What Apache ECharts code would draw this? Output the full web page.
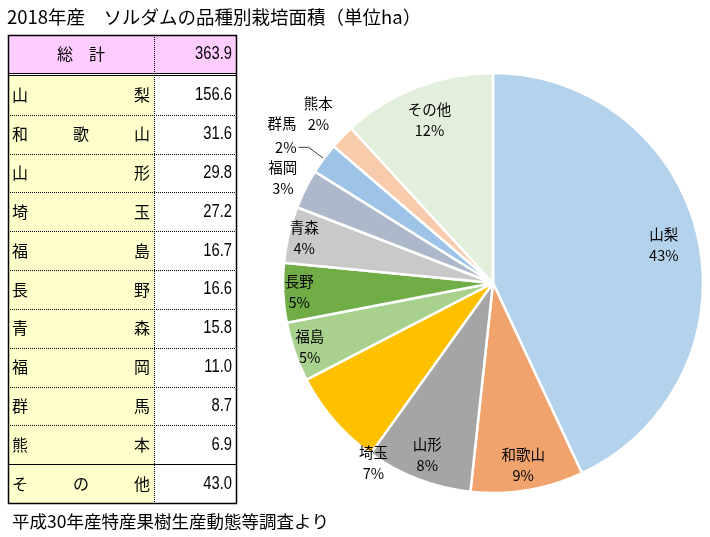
<!DOCTYPE html>
<html><head><meta charset="utf-8">
<script src="https://cdn.jsdelivr.net/npm/echarts@6/dist/echarts.min.js"></script>
<style>html,body{margin:0;padding:0;background:#fff}#c{width:710px;height:537px}</style>
</head><body><div id="c"></div>
<script>
// ---- data ----
const titleText = '2018年産　ソルダムの品種別栽培面積（単位ha）';
const sourceText = '平成30年産特産果樹生産動態等調査より';
const totalLabel = '総　計';
const regions = ['山梨','和歌山','山形','埼玉','福島','長野','青森','福岡','群馬','熊本','その他'];
const areas = [156.6,31.6,29.8,27.2,16.7,16.6,15.8,11.0,8.7,6.9,43.0];

// ---- style ----
const sliceColors = ['#b4d2eb','#f1a36d','#a5a5a5','#ffc000','#a9d18e','#70ad47','#c9c9c9','#adb9ca','#9dc3e6','#f8cbad','#e2efda'];
const jpFont = '"Noto Sans CJK JP", sans-serif';
const numFont = '"Liberation Sans", Arial, sans-serif';

const total = areas.reduce((a,b)=>a+b,0);
const pct = v => Math.round(v/total*100) + '%';

// ---- table as graphic ----
const T = {x0:8, x1:236, xd:154, top:35, hBot:73, bodyTop:76, bottom:503};
const rowH = (T.bottom - T.bodyTop) / regions.length;
const g = [];
g.push({type:'rect', shape:{x:T.x0, y:T.top, width:T.x1-T.x0, height:T.hBot-T.top}, style:{fill:'#ffccff'}});
g.push({type:'rect', shape:{x:T.x0, y:T.bodyTop, width:T.xd-T.x0, height:T.bottom-T.bodyTop}, style:{fill:'#ffffcc'}});
const numText = (txt, y) => ({type:'text', x:T.x1-4, y:y, scaleX:0.82, style:{text:txt, font:'18px '+numFont, fill:'#000', align:'right', verticalAlign:'middle'}});
g.push({type:'text', x:(T.x0+T.xd)/2, y:(T.top+T.hBot)/2, style:{text:totalLabel, font:'16px '+jpFont, fill:'#000', align:'center', verticalAlign:'middle'}});
g.push(numText(total.toFixed(1), (T.top+T.hBot)/2));
regions.forEach((name, i) => {
  const cy = T.bodyTop + rowH*(i+0.5);
  const chars = Array.from(name);
  const cL = 20, cR = 142;
  chars.forEach((ch, k) => {
    const cx = chars.length === 1 ? cL : cL + (cR-cL)*k/(chars.length-1);
    g.push({type:'text', x:cx, y:cy, style:{text:ch, font:'16px '+jpFont, fill:'#000', align:'center', verticalAlign:'middle'}});
  });
  g.push(numText(areas[i].toFixed(1), cy));
  if (i > 0) {
    const y = Math.round(T.bodyTop + rowH*i) + 0.5;
    const solid = (i === regions.length-1);
    g.push({type:'line', shape:{x1:T.x0, y1:y, x2:T.x1, y2:y}, style:{stroke:'#000', lineWidth:1, lineDash: solid ? null : [1,1]}});
  }
});
g.push({type:'line', shape:{x1:T.x0, y1:T.hBot+0.5, x2:T.x1, y2:T.hBot+0.5}, style:{stroke:'#000', lineWidth:1}});
g.push({type:'line', shape:{x1:T.x0, y1:T.bodyTop-0.5, x2:T.x1, y2:T.bodyTop-0.5}, style:{stroke:'#000', lineWidth:1}});
g.push({type:'line', shape:{x1:T.xd+0.5, y1:T.top, x2:T.xd+0.5, y2:T.bottom}, style:{stroke:'#000', lineWidth:1, lineDash:[1,1]}});
g.push({type:'rect', shape:{x:T.x0+0.5, y:T.top+0.5, width:T.x1-T.x0, height:T.bottom-T.top}, style:{fill:'none', stroke:'#000', lineWidth:1.5}});
g.push({type:'text', x:12, y:521, style:{text:sourceText, font:'17.5px '+jpFont, fill:'#000', verticalAlign:'middle'}});

// ---- pie ----
const C = [493, 283], R = 210;
const labelStyle = {color:'#000', fontFamily:jpFont, fontSize:14.5, lineHeight:21, formatter: p => p.name + '\n' + pct(p.value)};
const baseData = regions.map((n,i)=>({name:n, value:areas[i]}));
function labelRing(mid, shown, extra) {
  return Object.assign({
    type:'pie', center:C, radius:[mid-30, mid+30], startAngle:90, silent:true, animation:false,
    itemStyle:{color:'rgba(0,0,0,0)', borderWidth:0},
    emphasis:{disabled:true},
    avoidLabelOverlap:false,
    labelLayout:{hideOverlap:false},
    label:{show:true, position:'inside', ...labelStyle},
    labelLine:{show:false},
    data: baseData.map((d,i)=>({...d, label:{show: shown.includes(i)}}))
  }, extra || {});
}
const mainSeries = {
  type:'pie', center:C, radius:[0, R], startAngle:90, animation:false, silent:true,
  itemStyle:{borderColor:'#fff', borderWidth:2.5},
  label:{show:false},
  labelLine:{show:false},
  data: baseData.map((d,i)=>{
    const item = {...d, itemStyle:{color:sliceColors[i]}};
    if (i === 8) {
      item.label = {show:true, position:'outside', ...labelStyle, lineHeight:24,
        formatter: p => p.name + '\n' + pct(p.value) + '\n ', distanceToLabelLine:2, align:'center'};
      item.labelLine = {show:true, length:19, length2:10, lineStyle:{color:'#404040', width:1}};
    }
    return item;
  })
};

const chart = echarts.init(document.getElementById('c'));
chart.setOption({
  backgroundColor:'#fff',
  animation:false,
  title:{text:titleText, left:2, top:3, textStyle:{fontFamily:jpFont, fontSize:18.5, fontWeight:'normal', color:'#000'}},
  graphic: g,
  series:[
    mainSeries,
    labelRing(172, [0,10]),
    labelRing(181, [1,2]),
    labelRing(191, [4,5,6]),
    labelRing(216, [3], {labelLayout: p => p.dataIndex === 3 ? {dx:46, dy:37, hideOverlap:false} : {hideOverlap:false}}),
    labelRing(232, [7]),
    labelRing(240, [9])
  ]
});
</script>
</body></html>
